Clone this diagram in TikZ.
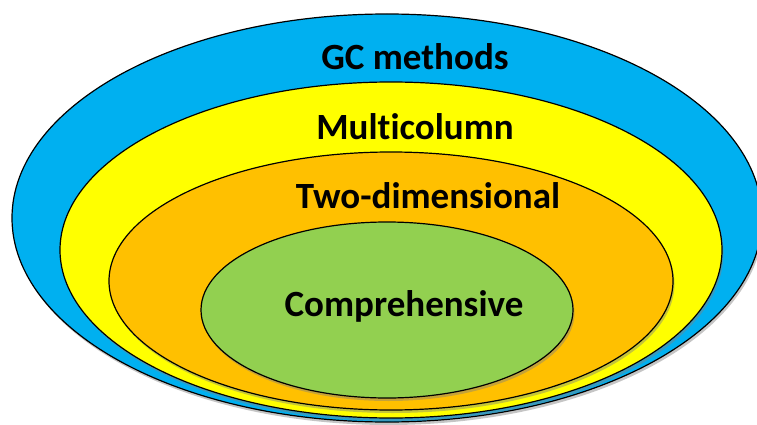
\documentclass[tikz,border=0pt]{standalone}
\usepackage{fontspec}
\setmainfont[Ligatures=NoCommon]{Carlito}
\usetikzlibrary{shadows}
\definecolor{gcblue}{HTML}{00B0F0}
\definecolor{gcyellow}{HTML}{FFFF00}
\definecolor{gcorange}{HTML}{FFC000}
\definecolor{gcgreen}{HTML}{92D050}
\tikzset{
  ring/.style={draw=black, line width=1.2pt, drop shadow={shadow xshift=1.5pt, shadow yshift=-3pt, opacity=0.45}},
  lbl/.style={font=\fontsize{37}{37}\selectfont\bfseries, inner sep=0pt}
}
\begin{document}
\begin{tikzpicture}[x=1pt,y=-1pt]
  \useasboundingbox (0,0) rectangle (757,425);
  \clip (0,0) rectangle (757,425);
  % nested classes, outermost first
  \fill[white] (0,0) rectangle (757,425);
  \path[ring, fill=gcblue] (387,218) ellipse [x radius=375, y radius=204];
  \path[ring, fill=gcyellow] (391,250) ellipse [x radius=331, y radius=168];
  \path[ring, fill=gcorange] (391,281) ellipse [x radius=282, y radius=129];
  \path[ring, fill=gcgreen] (387,310) ellipse [x radius=186, y radius=88];
  \node[lbl] (gc) at (415,57) {GC methods};
  \node[lbl] (multi) at (415,127) {Multicolumn};
  \node[lbl] (twod) at (428,196) {Two-dimensional};
  \node[lbl] (comp) at (404,306) {Comprehensive};
\end{tikzpicture}
\end{document}
